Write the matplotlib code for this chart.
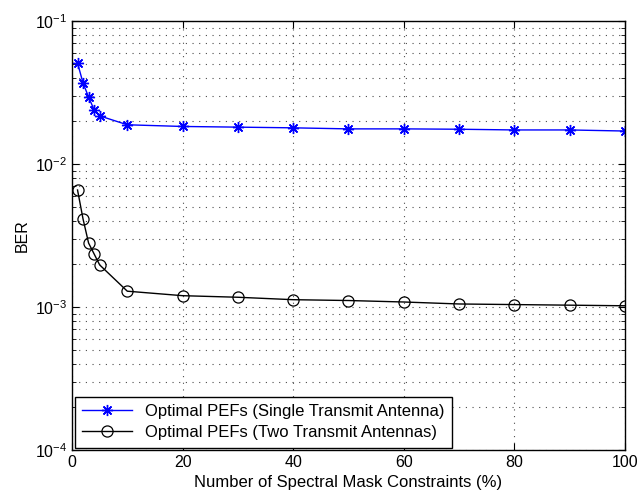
import matplotlib
matplotlib.use("Agg")
import matplotlib.pyplot as plt
from matplotlib.ticker import LogLocator, NullFormatter

plt.rcParams['font.family'] = ['Liberation Sans', 'DejaVu Sans']
plt.rcParams['mathtext.fontset'] = 'custom'
plt.rcParams['mathtext.rm'] = 'Liberation Sans'
plt.rcParams['mathtext.it'] = 'Liberation Sans:italic'
plt.rcParams['mathtext.bf'] = 'Liberation Sans:bold'

x = [1, 2, 3, 4, 5, 10, 20, 30, 40, 50, 60, 70, 80, 90, 100]
ber_single = [0.0508, 0.0368, 0.0294, 0.0239, 0.0217, 0.0188, 0.0183, 0.0181,
              0.0179, 0.0176, 0.0176, 0.0175, 0.0173, 0.0173, 0.0170]
ber_two = [0.00658, 0.00412, 0.00280, 0.00235, 0.00197, 0.00129, 0.00120, 0.00117,
           0.001125, 0.00111, 0.001084, 0.00105, 0.00104, 0.00103, 0.00102]
labels = ['Optimal PEFs (Single Transmit Antenna)', 'Optimal PEFs (Two Transmit Antennas)']

fig = plt.figure(figsize=(6.4, 4.96), dpi=100)
ax = fig.add_axes([0.1125, 0.0927, 0.864, 0.865])
ax.plot(x, ber_single, color='blue', marker=(8, 2, 0), markersize=8, markeredgewidth=1,
        linewidth=1, label=labels[0])
ax.plot(x, ber_two, color='black', marker='o', markersize=8, markerfacecolor='none',
        markeredgewidth=0.9, linewidth=1, label=labels[1])
ax.set_yscale('log')
ax.set_xlim(0, 100)
ax.set_ylim(1e-4, 1e-1)
ax.set_xticks([0, 20, 40, 60, 80, 100])
ax.yaxis.set_major_locator(LogLocator(base=10, numticks=10))
ax.yaxis.set_minor_locator(LogLocator(base=10, subs=range(2, 10), numticks=100))
ax.yaxis.set_minor_formatter(NullFormatter())
gstyle = dict(linestyle=(0, (1, 5)), color='black', linewidth=0.8, alpha=0.7)
ax.grid(True, which='major', **gstyle)
ax.grid(True, which='minor', axis='y', **gstyle)
ax.tick_params(which='both', direction='in', top=True, right=True, labelsize=11.5)
ax.tick_params(which='major', length=5)
ax.tick_params(which='minor', length=3)
for s in ax.spines.values():
    s.set_linewidth(1)
ax.set_xlabel('Number of Spectral Mask Constraints (%)', fontsize=12)
ax.set_ylabel('BER', fontsize=11.5)
leg = ax.legend(loc='lower left', fontsize=12, fancybox=False, edgecolor='black',
                framealpha=1, borderaxespad=0.15, handlelength=3, borderpad=0.45,
                labelspacing=0.35)
leg.get_frame().set_linewidth(1)
fig.savefig('out.png', dpi=100)
